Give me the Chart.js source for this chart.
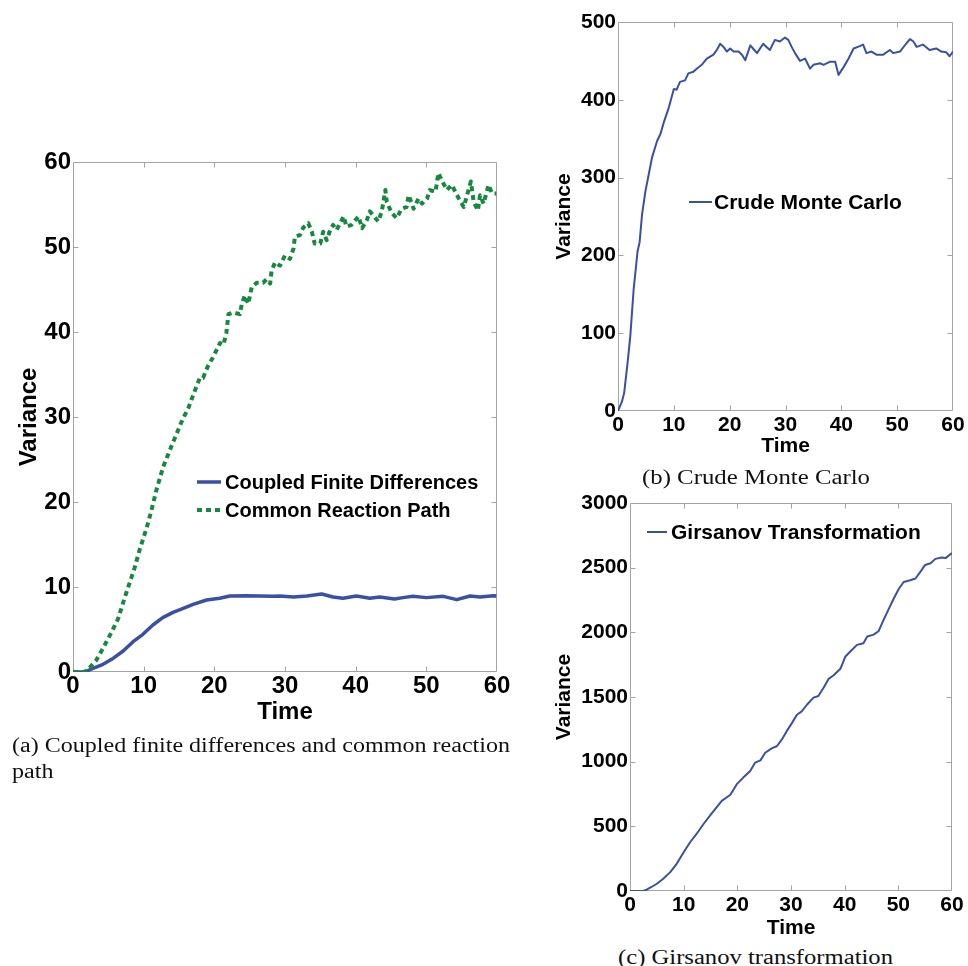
<!DOCTYPE html>
<html>
<head>
<meta charset="utf-8">
<script src="https://cdn.jsdelivr.net/npm/chart.js@4"></script>
<style>
  html, body { margin: 0; padding: 0; background: #fff; }
  #page { position: relative; width: 968px; height: 966px; overflow: hidden; background: #fff; }
  canvas { position: absolute; }
  .cap { position: absolute; font-family: "Liberation Serif", "Times New Roman", serif; font-size: 20px;
         color: #111; white-space: nowrap; line-height: 26px; transform-origin: 0 50%; }
  .cap span { display: inline-block; transform-origin: 0 50%; }
</style>
</head>
<body>
<div id="page">
  <canvas id="chartA" width="520" height="600" style="left:0;top:140px"></canvas>
  <canvas id="chartB" width="428" height="460" style="left:540px;top:0"></canvas>
  <canvas id="chartC" width="428" height="460" style="left:540px;top:480px"></canvas>
  <div class="cap" id="capA" style="left:12px;top:732px">
    <span id="capA1">(a) Coupled finite differences and common reaction</span><br>
    <span id="capA2">path</span>
  </div>
  <div class="cap" style="left:642px;top:464px"><span id="capB">(b) Crude Monte Carlo</span></div>
  <div class="cap" style="left:618px;top:944px"><span id="capC">(c) Girsanov transformation</span></div>
</div>
<script>
// (a) Coupled finite differences vs. common reaction path
const cfdTime = [0, 1.65, 2.83, 4.25, 5.66, 7.1, 8.5, 9.9, 11.3, 12.7, 14.15, 15.6, 17.0, 18.9, 20.75, 22.2,
  24.5, 26.4, 28.3, 29.3, 31.2, 33.1, 35.2, 36.8, 38.2, 40.1, 42.0, 43.4, 45.5, 46.7, 48.1, 50.0, 52.4, 54.3,
  56.2, 57.6, 59.5, 59.9];
const cfdVariance = [0, 0, 0.43, 0.9, 1.6, 2.47, 3.57, 4.43, 5.53, 6.4, 7.02, 7.49, 7.96, 8.47, 8.67, 8.94,
  8.98, 8.94, 8.9, 8.94, 8.82, 8.94, 9.18, 8.82, 8.67, 8.94, 8.67, 8.82, 8.59, 8.75, 8.9, 8.75, 8.9, 8.51,
  8.94, 8.82, 8.98, 8.95];

const crpTime = [0, 1.6, 2.1, 3.3, 4.25, 5.4, 6.4, 7.3, 8.3, 8.7, 9.4, 10.4, 11.1, 11.8, 12.75, 13.9, 14.4, 15.35,
  15.8, 16.3, 17.2, 17.95, 18.4, 19.1, 19.8, 20.8, 21.3, 21.7, 22.0, 22.7, 23.6, 23.9, 24.3, 24.8, 25.3, 26.0,
  26.9, 27.4, 27.9, 28.1, 28.6, 29.3, 30.0, 30.7, 31.2, 31.4, 32.1, 32.6, 33.3, 33.8, 34.2, 35.0, 35.4, 35.9,
  36.4, 36.8, 37.3, 38.3, 38.7, 39.4, 40.4, 40.9, 41.6, 42.0, 43.2, 43.7, 44.2, 44.4, 45.1, 45.8, 46.5, 47.2,
  47.5, 48.2, 48.9, 49.4, 50.1, 50.5, 51.3, 51.7, 52.4, 52.9, 53.6, 54.6, 55.3, 55.7, 56.3, 56.7, 57.3, 57.6,
  58.1, 58.8, 59.3, 59.9];
const crpVariance = [0, 0, 0.27, 1.4, 2.8, 4.6, 6.3, 8.7, 11.2, 12.2, 14.3, 16.9, 19.0, 21.4, 24.1, 26.5, 27.5, 29.4,
  30.2, 31.0, 33.0, 34.6, 34.6, 36.0, 37.0, 38.7, 38.5, 39.9, 42.1, 42.3, 42.1, 43.3, 44.3, 43.3, 45.3, 45.8,
  45.8, 46.2, 45.7, 47.2, 48.2, 47.8, 49.0, 48.6, 49.8, 51.2, 51.4, 52.3, 52.8, 51.8, 50.4, 50.4, 51.8, 50.8,
  52.0, 52.6, 52.0, 53.6, 52.4, 52.6, 53.6, 52.2, 53.2, 54.2, 53.0, 54.2, 56.7, 55.3, 54.0, 53.4, 54.5, 54.7,
  56.1, 54.5, 55.7, 55.1, 55.7, 56.7, 56.5, 58.7, 57.5, 56.7, 57.3, 55.7, 54.7, 55.9, 57.7, 55.3, 54.3, 56.1,
  55.1, 57.3, 56.3, 56.3];

// (b) Crude Monte Carlo
const cmcTime = [0, 0.7, 1.1, 1.7, 2.2, 2.8, 3.5, 3.87, 4.3, 4.9, 5.5, 6.1, 7.0, 7.6, 8.2, 9.1, 10.0, 10.5, 11.1,
  12.0, 12.6, 13.5, 14.1, 15.0, 15.9, 17.1, 17.7, 18.3, 18.9, 19.5, 20.1, 20.7, 21.6, 22.2, 22.8, 23.7, 24.3,
  24.9, 26.0, 26.6, 27.2, 28.1, 29.0, 29.9, 30.5, 31.1, 31.7, 32.6, 33.5, 34.4, 35.0, 36.2, 36.8, 38.0, 38.9,
  39.5, 40.4, 41.3, 42.2, 43.3, 43.9, 44.5, 45.4, 46.3, 47.5, 48.7, 49.3, 50.5, 51.7, 52.3, 52.9, 53.5, 54.6,
  55.8, 57.0, 57.9, 58.8, 59.4, 60];
const cmcVariance = [0, 12, 23, 61, 96, 156, 205, 217, 252, 282, 304, 326, 347, 356, 371, 390, 414, 413, 423,
  425, 434, 436, 440, 445, 453, 458, 464, 472, 468, 462, 466, 462, 462, 458, 451, 470, 465,
  460, 472, 468, 464, 477, 475, 480, 477, 468, 460, 450, 453, 440, 445, 447, 445, 449, 449,
  432, 442, 453, 466, 469, 471, 460, 462, 458, 458, 464, 460, 462, 473, 478, 475, 468, 471,
  464, 466, 462, 461, 456, 462];

// (c) Girsanov transformation
const girTime = [0, 2.5, 3.1, 4.0, 5.0, 6.2, 7.5, 8.7, 10.0, 11.2, 12.4, 13.7, 14.9, 16.2, 17.1, 18.7, 19.9, 21.1,
  22.4, 23.3, 24.3, 25.2, 26.4, 27.4, 28.3, 29.2, 30.2, 31.1, 32.0, 33.0, 34.2, 35.1, 36.1, 37.0, 37.9, 39.2,
  40.1, 41.0, 42.3, 43.5, 44.2, 45.4, 46.3, 47.3, 48.2, 49.1, 50.1, 51.0, 52.2, 53.2, 54.1, 55.0, 56.0, 56.9,
  58.1, 58.8, 60.0];
const girVariance = [0, 0, 10, 31, 56, 95, 146, 210, 300, 377, 441, 518, 582, 651, 697, 744, 826, 877,
  928, 992, 1010, 1069, 1103, 1121, 1172, 1236, 1300, 1363, 1389, 1442, 1495, 1508, 1574, 1640, 1666, 1718,
  1811, 1850, 1903, 1916, 1968, 1982, 2008, 2100, 2179, 2258, 2337, 2389, 2403, 2416, 2468, 2521, 2534, 2568,
  2579, 2574, 2613];

const timeTicks = [0, 10, 20, 30, 40, 50, 60];
const labelsA = ['Coupled Finite Differences', 'Common Reaction Path'];
const labelB = 'Crude Monte Carlo';
const labelC = 'Girsanov Transformation';

const BLUE = '#3a50a6';
const GREEN = '#17893e';
const SANS = '"Liberation Sans", Arial, Helvetica, sans-serif';

const zip = (t, v) => t.map((x, i) => ({ x, y: v[i] }));

// Grey box around the plot area with short inward tick marks on all four sides
const frameTicks = {
  id: 'frameTicks',
  beforeDatasetsDraw(chart) {
    const { ctx, chartArea: a, scales } = chart;
    const L = 5;
    const l = Math.round(a.left) + 0.5, r = Math.round(a.right) - 0.5;
    const t = Math.round(a.top) + 0.5, b = Math.round(a.bottom) - 0.5;
    ctx.save();
    ctx.strokeStyle = '#a3a3a3';
    ctx.lineWidth = 1;
    ctx.beginPath();
    ctx.rect(l, t, r - l, b - t);
    scales.x.ticks.forEach(tk => {
      const px = Math.round(scales.x.getPixelForValue(tk.value)) + 0.5;
      if (px <= l + 1 || px >= r - 1) return;
      ctx.moveTo(px, b); ctx.lineTo(px, b - L);
      ctx.moveTo(px, t); ctx.lineTo(px, t + L);
    });
    scales.y.ticks.forEach(tk => {
      const py = Math.round(scales.y.getPixelForValue(tk.value)) + 0.5;
      if (py <= t + 1 || py >= b - 1) return;
      ctx.moveTo(l, py); ctx.lineTo(l + L, py);
      ctx.moveTo(r, py); ctx.lineTo(r - L, py);
    });
    ctx.stroke();
    ctx.restore();
  }
};

// Legend drawn inside the plot area
const insetLegend = {
  id: 'insetLegend',
  afterDraw(chart, args, o) {
    const ctx = chart.ctx;
    chart.data.datasets.forEach((ds, i) => {
      const yy = o.y + i * (o.rowGap || 0);
      ctx.save();
      ctx.strokeStyle = ds.borderColor;
      ctx.lineWidth = ds.borderWidth;
      ctx.setLineDash(ds.borderDash || []);
      ctx.beginPath();
      ctx.moveTo(o.x, yy);
      ctx.lineTo(o.x + o.len, yy);
      ctx.stroke();
      ctx.setLineDash([]);
      ctx.fillStyle = '#000';
      ctx.font = 'bold ' + o.size + 'px ' + SANS;
      ctx.textBaseline = 'middle';
      ctx.textAlign = 'left';
      ctx.fillText(ds.label, o.x + o.len + o.gap, yy + 1);
      ctx.restore();
    });
  }
};

function makeChart(id, datasets, g) {
  const tickFont = { family: SANS, weight: 'bold', size: g.tickSize };
  const titleFont = { family: SANS, weight: 'bold', size: g.titleSize, lineHeight: 1 };
  return new Chart(document.getElementById(id), {
    type: 'line',
    data: { datasets },
    options: {
      responsive: false,
      animation: false,
      events: [],
      layout: { padding: { top: g.padTop, right: g.padRight, left: 0, bottom: 0 } },
      elements: { point: { radius: 0 }, line: { tension: 0, borderJoinStyle: 'round' } },
      plugins: {
        legend: { display: false },
        tooltip: { enabled: false },
        insetLegend: g.legend
      },
      scales: {
        x: {
          type: 'linear', min: 0, max: 60,
          afterFit(s) { s.height = g.xHeight; },
          afterBuildTicks(s) { s.ticks = timeTicks.map(v => ({ value: v })); },
          grid: { display: false, drawTicks: false },
          border: { display: false },
          ticks: { autoSkip: false, maxRotation: 0, padding: g.xTickPad, color: '#000', font: tickFont,
                   callback: v => String(v) },
          title: { display: true, text: 'Time', color: '#000', font: titleFont,
                   padding: { top: 0, bottom: g.xTitlePad } }
        },
        y: {
          type: 'linear', min: 0, max: g.yMax,
          afterFit(s) { s.width = g.yWidth; },
          grid: { display: false, drawTicks: false },
          border: { display: false },
          ticks: { stepSize: g.yStep, padding: 2, color: '#000', font: tickFont,
                   callback: v => String(v) },
          title: { display: true, text: 'Variance', color: '#000', font: titleFont,
                   padding: { top: g.yTitlePad, bottom: 0 } }
        }
      }
    },
    plugins: [frameTicks, insetLegend]
  });
}

function drawAll() {
  makeChart('chartA', [
    { label: labelsA[0], data: zip(cfdTime, cfdVariance), borderColor: BLUE, borderWidth: 3.5, order: 1 },
    { label: labelsA[1], data: zip(crpTime, crpVariance), borderColor: GREEN, borderWidth: 4,
      borderDash: [5, 4], order: 0 }
  ], { padTop: 22, padRight: 23, yWidth: 73, xHeight: 68, yMax: 60, yStep: 10,
       tickSize: 24, titleSize: 24, xTickPad: 0, xTitlePad: 16, yTitlePad: 17,
       legend: { x: 197, y: 342, rowGap: 28, len: 24, gap: 4, size: 20 } });

  makeChart('chartB', [
    { label: labelB, data: zip(cmcTime, cmcVariance), borderColor: BLUE, borderWidth: 2 }
  ], { padTop: 22, padRight: 15, yWidth: 78, xHeight: 49, yMax: 500, yStep: 100,
       tickSize: 21, titleSize: 21, xTickPad: 2, xTitlePad: 3, yTitlePad: 14,
       legend: { x: 149, y: 202, len: 23, gap: 2, size: 21 } });

  makeChart('chartC', [
    { label: labelC, data: zip(girTime, girVariance), borderColor: BLUE, borderWidth: 2 }
  ], { padTop: 23, padRight: 16, yWidth: 90, xHeight: 49, yMax: 3000, yStep: 500,
       tickSize: 21, titleSize: 21, xTickPad: 2, xTitlePad: 1, yTitlePad: 14,
       legend: { x: 107, y: 52, len: 20, gap: 4, size: 21 } });

  // stretch each caption line to its column width
  const fit = (el, w) => {
    const cur = el.getBoundingClientRect().width;
    el.style.transform = 'scaleX(' + (w / cur) + ')';
  };
  const a1 = document.getElementById('capA1');
  const a2 = document.getElementById('capA2');
  const k = 498 / a1.getBoundingClientRect().width;
  a1.style.transform = 'scaleX(' + k + ')';
  a2.style.transform = 'scaleX(' + k + ')';
  fit(document.getElementById('capB'), 228);
  fit(document.getElementById('capC'), 275);
}

if (document.fonts && document.fonts.ready) {
  document.fonts.ready.then(drawAll);
} else {
  drawAll();
}
</script>
</body>
</html>
